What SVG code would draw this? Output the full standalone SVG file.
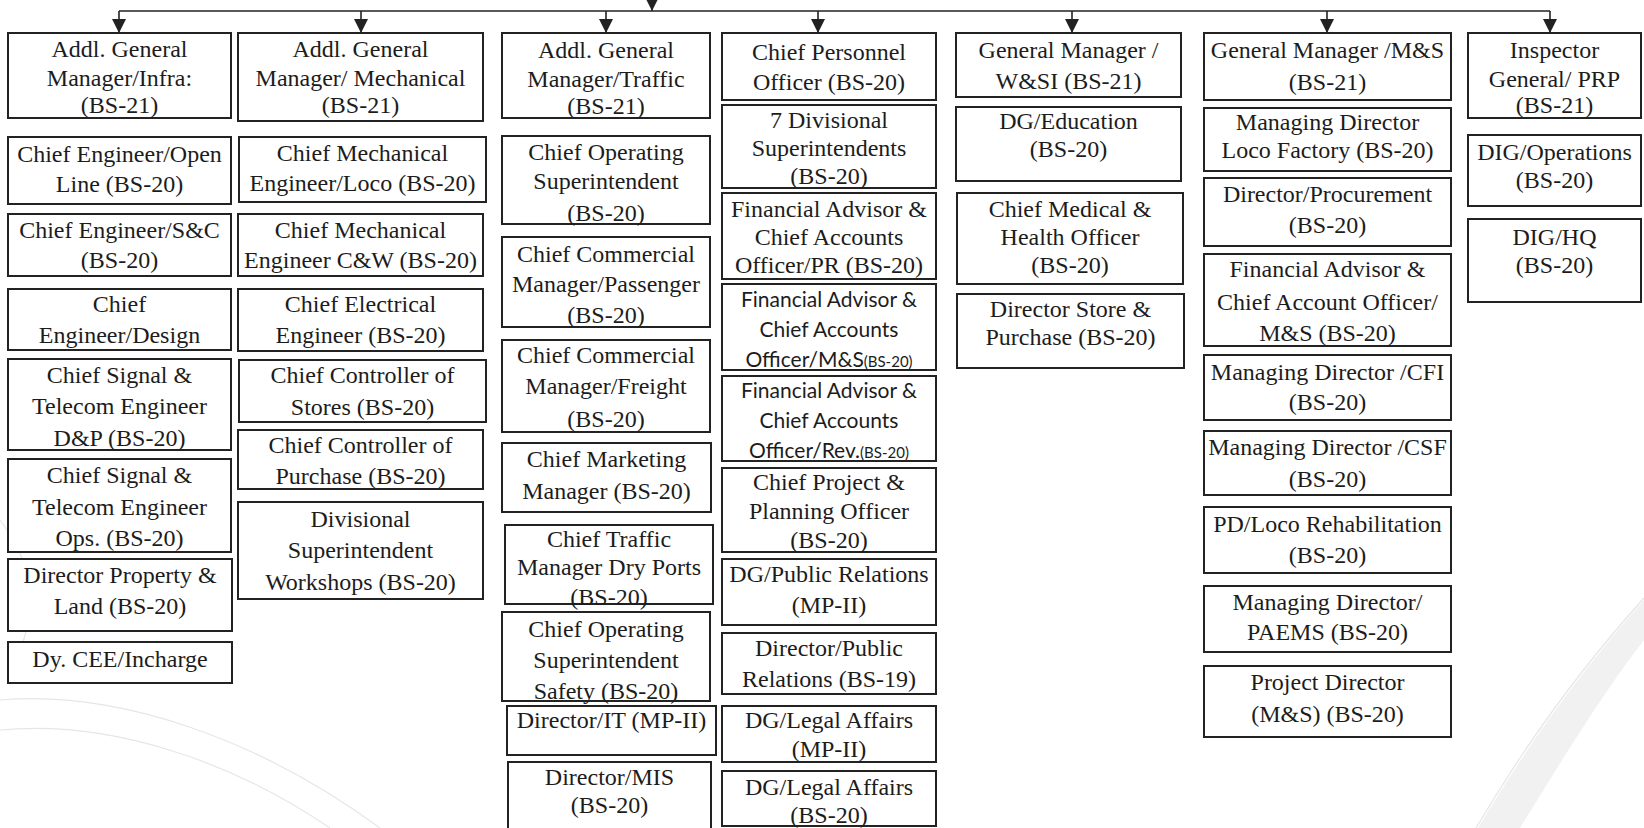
<svg xmlns="http://www.w3.org/2000/svg" width="1644" height="828" viewBox="0 0 1644 828">
<style>
.bg{fill:#ffffff}
.box{fill:#ffffff;stroke:#222222;stroke-width:2}
.t{font-family:"Liberation Serif","Times New Roman",serif;font-size:24px;text-anchor:middle;fill:#1c1c1c}
.s{font-family:Lato,"Liberation Sans",sans-serif;font-size:21px;text-anchor:middle;fill:#1c1c1c}
.sm{font-size:15px}
.ln{fill:none;stroke:#222222;stroke-width:1.6}
.wm{fill:none;stroke:#e6e6e6;stroke-width:1.2}
</style>
<defs>
<marker id="ah" markerUnits="userSpaceOnUse" markerWidth="16" markerHeight="14" refX="15" refY="7" orient="auto" viewBox="0 0 16 14">
<path d="M1,0 L15,7 L1,14 Z" fill="#222222"/>
</marker>
</defs>
<rect class="bg" x="0" y="0" width="1644" height="828"/>
<g id="watermark">
<path d="M1644,600 C1590,660 1530,740 1478,828 L1520,828 C1565,755 1605,690 1644,640 Z" fill="#f1f1f1"/>
<path class="wm" d="M1644,598 C1588,660 1528,740 1476,828"/>
<path class="wm" d="M0,700 C120,690 260,740 380,828"/>
<path class="wm" d="M0,730 C110,720 230,760 330,828"/>
<path class="wm" d="M0,520 C30,560 40,600 20,650"/>
</g>
<g id="connectors">
<line class="ln" x1="119" y1="11" x2="1550" y2="11"/>
<line class="ln" x1="652" y1="-10" x2="652" y2="11" marker-end="url(#ah)"/>
<line class="ln" x1="119" y1="11" x2="119" y2="33" marker-end="url(#ah)"/>
<line class="ln" x1="361" y1="11" x2="361" y2="33" marker-end="url(#ah)"/>
<line class="ln" x1="606" y1="11" x2="606" y2="33" marker-end="url(#ah)"/>
<line class="ln" x1="818" y1="11" x2="818" y2="33" marker-end="url(#ah)"/>
<line class="ln" x1="1072" y1="11" x2="1072" y2="33" marker-end="url(#ah)"/>
<line class="ln" x1="1327" y1="11" x2="1327" y2="33" marker-end="url(#ah)"/>
<line class="ln" x1="1550" y1="11" x2="1550" y2="33" marker-end="url(#ah)"/>
</g>

<!-- Column 1 -->
<g id="agm-infra"><rect class="box" x="8" y="33" width="223" height="85"/><text class="t" x="119.5" y="57">Addl. General</text><text class="t" x="119.5" y="86">Manager/Infra:</text><text class="t" x="119.5" y="113">(BS-21)</text></g>
<g id="ce-open-line"><rect class="box" x="8" y="137" width="223" height="67"/><text class="t" x="119.5" y="162">Chief Engineer/Open</text><text class="t" x="119.5" y="192">Line (BS-20)</text></g>
<g id="ce-sc"><rect class="box" x="8" y="214" width="223" height="62"/><text class="t" x="119.5" y="238">Chief Engineer/S&amp;C</text><text class="t" x="119.5" y="268">(BS-20)</text></g>
<g id="ce-design"><rect class="box" x="8" y="289" width="223" height="61"/><text class="t" x="119.5" y="312">Chief</text><text class="t" x="119.5" y="343">Engineer/Design</text></g>
<g id="cste-dp"><rect class="box" x="8" y="359" width="223" height="91"/><text class="t" x="119.5" y="383">Chief Signal &amp;</text><text class="t" x="119.5" y="414">Telecom Engineer</text><text class="t" x="119.5" y="446">D&amp;P (BS-20)</text></g>
<g id="cste-ops"><rect class="box" x="8" y="459" width="223" height="93"/><text class="t" x="119.5" y="483">Chief Signal &amp;</text><text class="t" x="119.5" y="515">Telecom Engineer</text><text class="t" x="119.5" y="546">Ops. (BS-20)</text></g>
<g id="dir-property"><rect class="box" x="8" y="559" width="224" height="72"/><text class="t" x="120" y="583">Director Property &amp;</text><text class="t" x="120" y="614">Land (BS-20)</text></g>
<g id="dy-cee"><rect class="box" x="8" y="642" width="224" height="41"/><text class="t" x="120" y="667">Dy. CEE/Incharge</text></g>

<!-- Column 2 -->
<g id="agm-mech"><rect class="box" x="238" y="33" width="245" height="88"/><text class="t" x="360.5" y="57">Addl. General</text><text class="t" x="360.5" y="86">Manager/ Mechanical</text><text class="t" x="360.5" y="113">(BS-21)</text></g>
<g id="cme-loco"><rect class="box" x="239" y="137" width="247" height="65"/><text class="t" x="362.5" y="161">Chief Mechanical</text><text class="t" x="362.5" y="191">Engineer/Loco (BS-20)</text></g>
<g id="cme-cw"><rect class="box" x="238" y="214" width="245" height="62"/><text class="t" x="360.5" y="238">Chief Mechanical</text><text class="t" x="360.5" y="268">Engineer C&amp;W (BS-20)</text></g>
<g id="cee"><rect class="box" x="238" y="289" width="245" height="62"/><text class="t" x="360.5" y="312">Chief Electrical</text><text class="t" x="360.5" y="343">Engineer (BS-20)</text></g>
<g id="cc-stores"><rect class="box" x="239" y="360" width="247" height="62"/><text class="t" x="362.5" y="383">Chief Controller of</text><text class="t" x="362.5" y="415">Stores (BS-20)</text></g>
<g id="cc-purchase"><rect class="box" x="238" y="430" width="245" height="59"/><text class="t" x="360.5" y="453">Chief Controller of</text><text class="t" x="360.5" y="484">Purchase (BS-20)</text></g>
<g id="ds-workshops"><rect class="box" x="238" y="502" width="245" height="97"/><text class="t" x="360.5" y="527">Divisional</text><text class="t" x="360.5" y="558">Superintendent</text><text class="t" x="360.5" y="590">Workshops (BS-20)</text></g>

<!-- Column 3 -->
<g id="agm-traffic"><rect class="box" x="502" y="33" width="208" height="85"/><text class="t" x="606" y="58">Addl. General</text><text class="t" x="606" y="87">Manager/Traffic</text><text class="t" x="606" y="114">(BS-21)</text></g>
<g id="cos"><rect class="box" x="502" y="136" width="208" height="88"/><text class="t" x="606" y="160">Chief Operating</text><text class="t" x="606" y="189">Superintendent</text><text class="t" x="606" y="221">(BS-20)</text></g>
<g id="ccm-passenger"><rect class="box" x="502" y="237" width="208" height="90"/><text class="t" x="606" y="262">Chief Commercial</text><text class="t" x="606" y="292">Manager/Passenger</text><text class="t" x="606" y="323">(BS-20)</text></g>
<g id="ccm-freight"><rect class="box" x="502" y="340" width="208" height="92"/><text class="t" x="606" y="363">Chief Commercial</text><text class="t" x="606" y="394">Manager/Freight</text><text class="t" x="606" y="427">(BS-20)</text></g>
<g id="cmm"><rect class="box" x="502" y="443" width="209" height="69"/><text class="t" x="606.5" y="467">Chief Marketing</text><text class="t" x="606.5" y="499">Manager (BS-20)</text></g>
<g id="ctm-dry-ports"><rect class="box" x="505" y="525" width="208" height="79"/><text class="t" x="609" y="547">Chief Traffic</text><text class="t" x="609" y="575">Manager Dry Ports</text><text class="t" x="609" y="605">(BS-20)</text></g>
<g id="cos-safety"><rect class="box" x="502" y="612" width="208" height="89"/><text class="t" x="606" y="637">Chief Operating</text><text class="t" x="606" y="668">Superintendent</text><text class="t" x="606" y="699">Safety (BS-20)</text></g>
<g id="dir-it"><rect class="box" x="507" y="706" width="209" height="49"/><text class="t" x="611.5" y="728">Director/IT (MP-II)</text></g>
<g id="dir-mis"><rect class="box" x="508" y="762" width="203" height="74"/><text class="t" x="609.5" y="785">Director/MIS</text><text class="t" x="609.5" y="813">(BS-20)</text></g>

<!-- Column 4 -->
<g id="cpo"><rect class="box" x="722" y="33" width="214" height="67"/><text class="t" x="829" y="60">Chief Personnel</text><text class="t" x="829" y="90">Officer (BS-20)</text></g>
<g id="div-supdts"><rect class="box" x="722" y="105" width="214" height="83"/><text class="t" x="829" y="128">7 Divisional</text><text class="t" x="829" y="156">Superintendents</text><text class="t" x="829" y="184">(BS-20)</text></g>
<g id="fa-cao-pr"><rect class="box" x="722" y="193" width="214" height="86"/><text class="t" x="829" y="217">Financial Advisor &amp;</text><text class="t" x="829" y="245">Chief Accounts</text><text class="t" x="829" y="273">Officer/PR (BS-20)</text></g>
<g id="fa-cao-ms"><rect class="box" x="722" y="284" width="214" height="86"/><text class="s" x="829" y="307">Financial Advisor &amp;</text><text class="s" x="829" y="337">Chief Accounts</text><text class="s" x="829" y="367">Officer/M&amp;S<tspan class="sm">(BS-20)</tspan></text></g>
<g id="fa-cao-rev"><rect class="box" x="722" y="376" width="214" height="85"/><text class="s" x="829" y="398">Financial Advisor &amp;</text><text class="s" x="829" y="428">Chief Accounts</text><text class="s" x="829" y="458">Officer/Rev.<tspan class="sm">(BS-20)</tspan></text></g>
<g id="cppo"><rect class="box" x="722" y="468" width="214" height="84"/><text class="t" x="829" y="490">Chief Project &amp;</text><text class="t" x="829" y="519">Planning Officer</text><text class="t" x="829" y="548">(BS-20)</text></g>
<g id="dg-pr"><rect class="box" x="722" y="559" width="214" height="66"/><text class="t" x="829" y="582">DG/Public Relations</text><text class="t" x="829" y="613">(MP-II)</text></g>
<g id="dir-pr"><rect class="box" x="722" y="633" width="214" height="61"/><text class="t" x="829" y="656">Director/Public</text><text class="t" x="829" y="687">Relations (BS-19)</text></g>
<g id="dg-legal-mp"><rect class="box" x="722" y="706" width="214" height="56"/><text class="t" x="829" y="728">DG/Legal Affairs</text><text class="t" x="829" y="757">(MP-II)</text></g>
<g id="dg-legal-bs"><rect class="box" x="722" y="771" width="214" height="55"/><text class="t" x="829" y="795">DG/Legal Affairs</text><text class="t" x="829" y="823">(BS-20)</text></g>

<!-- Column 5 -->
<g id="gm-wsi"><rect class="box" x="956" y="33" width="225" height="64"/><text class="t" x="1068.5" y="58">General Manager /</text><text class="t" x="1068.5" y="89">W&amp;SI (BS-21)</text></g>
<g id="dg-education"><rect class="box" x="956" y="107" width="225" height="74"/><text class="t" x="1068.5" y="129">DG/Education</text><text class="t" x="1068.5" y="157">(BS-20)</text></g>
<g id="cmho"><rect class="box" x="957" y="193" width="226" height="91"/><text class="t" x="1070" y="217">Chief Medical &amp;</text><text class="t" x="1070" y="245">Health Officer</text><text class="t" x="1070" y="273">(BS-20)</text></g>
<g id="dir-store-purchase"><rect class="box" x="957" y="294" width="227" height="74"/><text class="t" x="1070.5" y="317">Director Store &amp;</text><text class="t" x="1070.5" y="345">Purchase (BS-20)</text></g>

<!-- Column 6 -->
<g id="gm-ms"><rect class="box" x="1204" y="33" width="247" height="67"/><text class="t" x="1327.5" y="58">General Manager /M&amp;S</text><text class="t" x="1327.5" y="90">(BS-21)</text></g>
<g id="md-loco-factory"><rect class="box" x="1204" y="108" width="247" height="63"/><text class="t" x="1327.5" y="130">Managing Director</text><text class="t" x="1327.5" y="158">Loco Factory (BS-20)</text></g>
<g id="dir-procurement"><rect class="box" x="1204" y="178" width="247" height="68"/><text class="t" x="1327.5" y="202">Director/Procurement</text><text class="t" x="1327.5" y="233">(BS-20)</text></g>
<g id="fa-cao-ms2"><rect class="box" x="1204" y="254" width="247" height="92"/><text class="t" x="1327.5" y="277">Financial Advisor &amp;</text><text class="t" x="1327.5" y="310">Chief Account Officer/</text><text class="t" x="1327.5" y="341">M&amp;S (BS-20)</text></g>
<g id="md-cfi"><rect class="box" x="1204" y="355" width="247" height="65"/><text class="t" x="1327.5" y="380">Managing Director /CFI</text><text class="t" x="1327.5" y="410">(BS-20)</text></g>
<g id="md-csf"><rect class="box" x="1204" y="431" width="247" height="64"/><text class="t" x="1327.5" y="455">Managing Director /CSF</text><text class="t" x="1327.5" y="487">(BS-20)</text></g>
<g id="pd-loco-rehab"><rect class="box" x="1204" y="507" width="247" height="66"/><text class="t" x="1327.5" y="532">PD/Loco Rehabilitation</text><text class="t" x="1327.5" y="563">(BS-20)</text></g>
<g id="md-paems"><rect class="box" x="1204" y="586" width="247" height="66"/><text class="t" x="1327.5" y="610">Managing Director/</text><text class="t" x="1327.5" y="640">PAEMS (BS-20)</text></g>
<g id="pd-ms"><rect class="box" x="1204" y="666" width="247" height="71"/><text class="t" x="1327.5" y="690">Project Director</text><text class="t" x="1327.5" y="722">(M&amp;S) (BS-20)</text></g>

<!-- Column 7 -->
<g id="ig-prp"><rect class="box" x="1468" y="33" width="173" height="85"/><text class="t" x="1554.5" y="58">Inspector</text><text class="t" x="1554.5" y="87">General/ PRP</text><text class="t" x="1554.5" y="113">(BS-21)</text></g>
<g id="dig-operations"><rect class="box" x="1468" y="135" width="173" height="71"/><text class="t" x="1554.5" y="160">DIG/Operations</text><text class="t" x="1554.5" y="188">(BS-20)</text></g>
<g id="dig-hq"><rect class="box" x="1468" y="219" width="173" height="83" stroke-width="2.5"/><text class="t" x="1554.5" y="245">DIG/HQ</text><text class="t" x="1554.5" y="273">(BS-20)</text></g>
</svg>
